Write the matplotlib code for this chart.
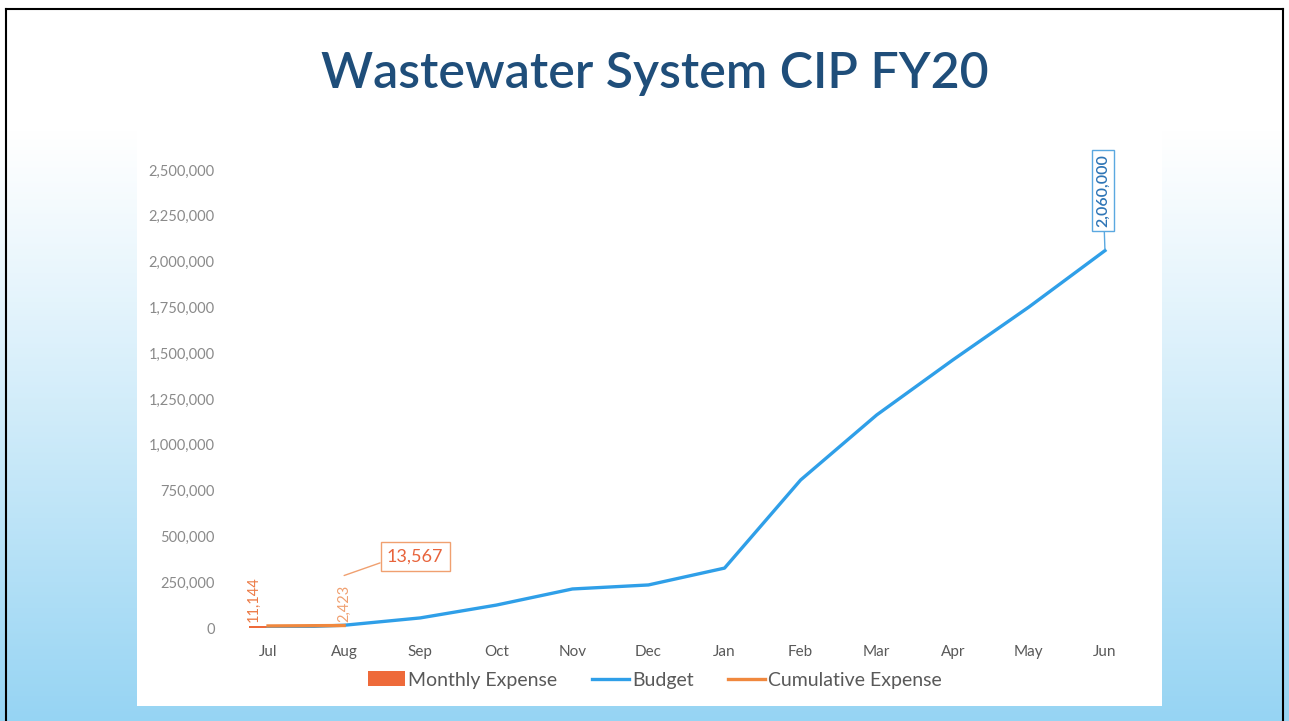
import numpy as np
import matplotlib
matplotlib.use('Agg')
import matplotlib.pyplot as plt
import matplotlib.transforms as mtransforms
from matplotlib.patches import Rectangle, Patch
from matplotlib.lines import Line2D

months = ['Jul','Aug','Sep','Oct','Nov','Dec','Jan','Feb','Mar','Apr','May','Jun']
budget = [0, 15000, 55000, 125000, 213000, 235000, 327000, 808000, 1163000, 1463000, 1752000, 2060000]
monthly_expense = [11144, 2423]
cumulative_expense = [11144, 13567]
yticks = [0, 250000, 500000, 750000, 1000000, 1250000, 1500000, 1750000, 2000000, 2250000, 2500000]

W, H = 1289, 721

def draw_background(fig):
    # slide background: white on top fading to light sky blue at the bottom
    bg = fig.add_axes([0, 0, 1, 1], zorder=-10)
    t = np.clip((np.arange(H) - 130) / (H - 130), 0, 1)[:, None]
    t = t ** 1.1
    top = np.array([1.0, 1.0, 1.0])
    bot = np.array([150, 212, 243]) / 255
    img = top + (bot - top) * t[:, :, None]
    img = np.repeat(img, W, axis=1)
    bg.imshow(img, extent=[0, W, H, 0], aspect='auto')
    bg.set_xlim(0, W)
    bg.set_ylim(H, 0)
    bg.axis('off')
    # white chart area
    bg.add_patch(Rectangle((137, 100), 1162 - 137, 706 - 100, facecolor='white', edgecolor='none'))
    # black slide frame
    bg.plot([6, 6], [H, 9], color='black', lw=1.5)
    bg.plot([6, 1283], [9, 9], color='black', lw=1.5)
    bg.plot([1283, 1283], [9, H], color='black', lw=1.5)
    return bg

def main():
    plt.rcParams['font.family'] = ['Lato', 'DejaVu Sans']
    fig = plt.figure(figsize=(W / 100, H / 100), dpi=100)
    draw_background(fig)

    fig.text(655 / W, 1 - 74 / H, 'Wastewater System CIP FY20', ha='center', va='center',
             fontsize=36, fontweight='semibold', color='#1f4e7a')

    ax = fig.add_axes([230 / W, (H - 628) / H, 913 / W, 458 / H])
    ax.patch.set_alpha(0)
    x = np.arange(len(months))

    ax.bar(x[:len(monthly_expense)], monthly_expense, width=0.5, color='#ee6a3a', zorder=2)
    ax.plot(x, budget, color='#2f9fe8', lw=2.4, zorder=3)
    ax.plot(x[:len(cumulative_expense)], cumulative_expense, color='#f0883e', lw=2.4, zorder=4)

    ax.set_xlim(-0.5, len(months) - 0.5)
    ax.set_ylim(0, 2500000)
    ax.set_xticks(x)
    ax.set_xticklabels(months, fontsize=11, color='#595959')
    ax.set_yticks(yticks)
    ax.set_yticklabels([f'{v:,}' for v in yticks], fontsize=10.5, color='#8a8a8a')
    ax.tick_params(axis='y', length=0, pad=11)
    ax.tick_params(axis='x', length=0, pad=12)
    for s in ax.spines.values():
        s.set_visible(False)

    # data labels for monthly expense (rotated)
    ax.annotate(f'{monthly_expense[0]:,}', xy=(0, monthly_expense[0]), xytext=(-14, 4),
                textcoords='offset pixels', rotation=90, ha='center', va='bottom',
                fontsize=10.5, color='#ec7a45')
    ax.annotate(f'{monthly_expense[1]:,}', xy=(1, monthly_expense[1]), xytext=(0, 6),
                textcoords='offset pixels', rotation=90, ha='center', va='bottom',
                fontsize=10.5, color='#f0a070')

    # callout for cumulative expense, leader ends above the 2,423 label
    above = mtransforms.offset_copy(ax.transData, fig=fig, x=0, y=50, units='dots')
    ax.annotate(f'{cumulative_expense[1]:,}', xy=(1, cumulative_expense[1]), xycoords=above,
                xytext=(71, 19), textcoords='offset pixels', ha='center', va='center',
                fontsize=13, color='#e8643c',
                bbox=dict(boxstyle='square,pad=0.35', fc='white', ec='#f0a070', lw=1),
                arrowprops=dict(arrowstyle='-', color='#f0a070', lw=1, shrinkA=0, shrinkB=0,
                                relpos=(0, 0.25)))

    # callout for budget end value
    ax.annotate(f'{budget[-1]:,}', xy=(11, budget[-1]), xytext=(-2, 60),
                textcoords='offset pixels', rotation=90, ha='center', va='center',
                fontsize=11.5, fontweight='semibold', color='#2e75b6',
                bbox=dict(boxstyle='square,pad=0.25', fc='white', ec='#5aa8e0', lw=1),
                arrowprops=dict(arrowstyle='-', color='#5aa8e0', lw=1, shrinkA=0, shrinkB=1))

    handles = [Patch(facecolor='#ee6a3a', edgecolor='none'),
               Line2D([], [], color='#2f9fe8', lw=2.4),
               Line2D([], [], color='#f0883e', lw=2.4)]
    labels = ['Monthly Expense', 'Budget', 'Cumulative Expense']
    fig.legend(handles, labels, loc='center', bbox_to_anchor=(655 / W, 1 - 680 / H), ncol=3,
               frameon=False, fontsize=14, labelcolor='#595959', handlelength=1.9,
               handletextpad=0.15, columnspacing=1.8, handleheight=0.8)

    fig.savefig('out.png', dpi=100)

if __name__ == "__main__":
    main()
